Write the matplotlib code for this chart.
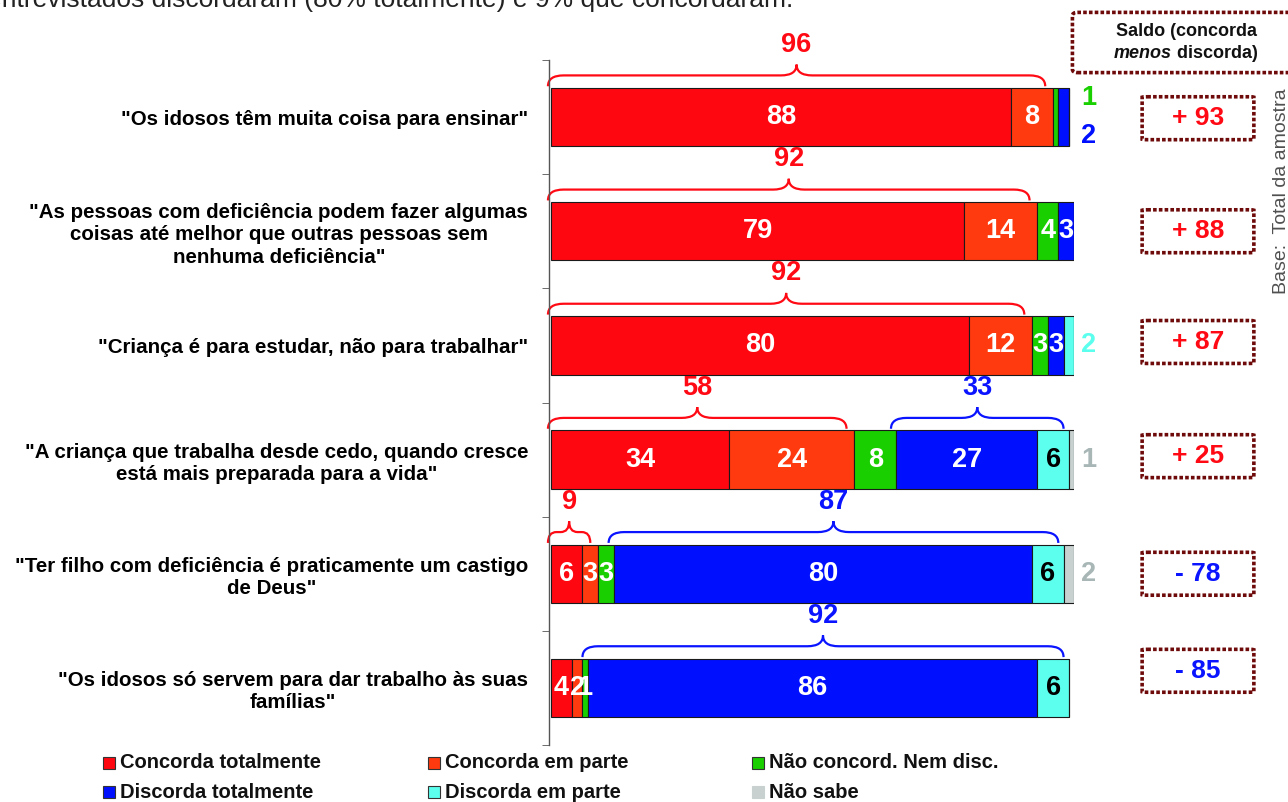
import matplotlib
matplotlib.use("Agg")
import matplotlib.pyplot as plt
from matplotlib.patches import Rectangle, FancyBboxPatch, PathPatch
from matplotlib.path import Path
import matplotlib.transforms as mtransforms

plt.rcParams['font.family'] = ['Liberation Sans', 'DejaVu Sans']

# ---------------- data ----------------
categories = [
    '"Os idosos têm muita coisa para ensinar"',
    '"As pessoas com deficiência podem fazer algumas\ncoisas até melhor que outras pessoas sem\nnenhuma deficiência"',
    '"Criança é para estudar, não para trabalhar"',
    '"A criança que trabalha desde cedo, quando cresce\nestá mais preparada para a vida"',
    '"Ter filho com deficiência é praticamente um castigo\nde Deus"',
    '"Os idosos só servem para dar trabalho às suas\nfamílias"',
]
series_names = ["Concorda totalmente", "Concorda em parte", "Não concord. Nem disc.",
                "Discorda totalmente", "Discorda em parte", "Não sabe"]
concorda_tot = [88, 79, 80, 34, 6, 4]
concorda_parte = [8, 14, 12, 24, 3, 2]
nem_nem = [1, 4, 3, 8, 3, 1]
discorda_tot = [2, 3, 3, 27, 80, 86]
discorda_parte = [0, 0, 2, 6, 6, 6]
nao_sabe = [0, 0, 0, 1, 2, 0]
total_concorda = [96, 92, 92, 58, 9, None]
total_discorda = [None, None, None, 33, 87, 92]
saldo = [93, 88, 87, 25, -78, -85]
top_note = "87% dos entrevistados discordaram (80% totalmente) e 9% que concordaram."

# ---------------- style ----------------
colors = ['#FF0710', '#FF3A0E', '#19CF00', '#0010FF', '#5CFFEE', '#C8D0D0']
label_colors = ['white', 'white', 'white', 'white', 'black', 'white']
outside_colors = ['#FF0710', '#FF3A0E', '#19CF00', '#0010FF', '#5CFFEE', '#A8B6B6']
# segments labelled outside the bar: (row, series) -> vertical offset
outside = {(0, 2): -0.17, (0, 3): 0.17, (2, 4): 0.0, (3, 5): 0.0, (4, 5): 0.0}
saldo_box_offset = [0.01, 0.0, -0.03, -0.03, 0.0, -0.15]
RED = '#FF0A14'
BLUE = '#0A14FF'
BOX = '#6E0A0A'
NUM_FS = 19.5

W, H = 1288, 802
fig = plt.figure(figsize=(W / 100, H / 100), dpi=100)
ax = fig.add_axes([549 / W, 1 - 745 / H, 525 / W, 685 / H])

data = [concorda_tot, concorda_parte, nem_nem, discorda_tot, discorda_parte, nao_sabe]
n = len(categories)
ypos = list(range(n))
left = [0.0] * n
starts = []
for s, vals in enumerate(data):
    ax.barh(ypos, vals, left=left, height=0.51, color=colors[s],
            edgecolor='#1a1a1a', linewidth=0.8, label=series_names[s])
    starts.append(list(left))
    for i, v in enumerate(vals):
        if v <= 0:
            continue
        if (i, s) in outside:
            ax.text(102.8, i + outside[(i, s)], str(v), ha='center', va='center',
                    fontsize=NUM_FS, fontweight='bold', color=outside_colors[s], clip_on=False)
        else:
            ax.text(left[i] + v / 2, i, str(v), ha='center', va='center',
                    fontsize=NUM_FS, fontweight='bold', color=label_colors[s], clip_on=False)
    left = [l + v for l, v in zip(left, vals)]


def brace(x0, x1, yc, color):
    yb = yc - 0.27
    yh = yc - 0.365
    yp = yc - 0.46
    xm = (x0 + x1) / 2
    k = min(3.0, (x1 - x0) * 0.2)
    verts = [(x0, yb), (x0, yh), (x0 + k, yh), (xm - k, yh), (xm, yh), (xm, yp),
             (xm, yh), (xm + k, yh), (x1 - k, yh), (x1, yh), (x1, yb)]
    codes = [Path.MOVETO, Path.CURVE3, Path.CURVE3, Path.LINETO, Path.CURVE3, Path.CURVE3,
             Path.CURVE3, Path.CURVE3, Path.LINETO, Path.CURVE3, Path.CURVE3]
    ax.add_patch(PathPatch(Path(verts, codes), fill=False, edgecolor=color,
                           linewidth=1.6, clip_on=False))
    return xm


for i in range(n):
    if total_concorda[i] is not None:
        end = concorda_tot[i] + concorda_parte[i]
        xm = brace(-0.6, end - 1.5, i, RED)
        ax.text(xm, i - 0.63, str(total_concorda[i]), ha='center', va='center',
                fontsize=NUM_FS, fontweight='bold', color=RED, clip_on=False)
    if total_discorda[i] is not None:
        s0 = starts[3][i]
        end = s0 + discorda_tot[i] + discorda_parte[i]
        xm = brace(s0 - 1.0, end - 1.0, i, BLUE)
        ax.text(xm, i - 0.63, str(total_discorda[i]), ha='center', va='center',
                fontsize=NUM_FS, fontweight='bold', color=BLUE, clip_on=False)

ax.set_xlim(-0.4, 100)
ax.set_ylim(n - 0.5, -0.5)
ax.set_yticks(ypos)
ax.set_yticklabels(categories, fontsize=14.8, fontweight='bold', linespacing=1.22)
for t in ax.get_yticklabels():
    t.set_multialignment('center')
ax.tick_params(axis='y', which='major', length=0, pad=15)
ax.set_yticks([i - 0.5 for i in range(n + 1)], minor=True)
ax.tick_params(axis='y', which='minor', length=5, direction='out', color='#555555')
ax.set_xticks([])
for sp in ['top', 'right', 'bottom']:
    ax.spines[sp].set_visible(False)
ax.spines['left'].set_color('#555555')
ax.spines['left'].set_linewidth(1.0)

# ---------------- saldo column ----------------
bt = mtransforms.blended_transform_factory(fig.transFigure, ax.transData)
box_h = 0.41
for i, v in enumerate(saldo):
    yc = i + saldo_box_offset[i]
    ax.add_patch(FancyBboxPatch((1146 / W, yc - box_h / 2 + 0.02), 104 / W, box_h - 0.04,
                                boxstyle="round,pad=0.003,rounding_size=0.004",
                                transform=bt, fill=False, edgecolor=BOX,
                                linewidth=2.6, linestyle=(0, (1.0, 0.6)), clip_on=False))
    txt = ("+ " if v > 0 else "- ") + str(abs(v))
    ax.text(1198 / W, yc, txt, transform=bt, ha='center', va='center', fontsize=19,
            fontweight='bold', color=RED if v > 0 else BLUE, clip_on=False)

fig.patches.append(FancyBboxPatch((1075 / W, 1 - 71 / H), 240 / W, 57 / H,
                                  boxstyle="round,pad=0.002,rounding_size=0.004",
                                  transform=fig.transFigure, fill=False, edgecolor=BOX,
                                  linewidth=2.6, linestyle=(0, (1.0, 0.6))))
fig.text(1186 / W, 1 - 31 / H, "Saldo (concorda", ha='center', va='center',
         fontsize=13, fontweight='bold', color='#111111')
fig.text(1172 / W, 1 - 53 / H, "menos", ha='right', va='center', fontsize=13,
         fontweight='bold', fontstyle='italic', color='#111111')
fig.text(1172 / W, 1 - 53 / H, " discorda)", ha='left', va='center', fontsize=13,
         fontweight='bold', color='#111111')

fig.text(1281 / W, 1 - 191 / H, "Base:  Total da amostra", rotation=90, ha='center',
         va='center', fontsize=14, color='#505050')

fig.text(793 / W, 1 - 7 / H, top_note, ha='right', va='baseline', fontsize=19,
         color='#222222')

# ---------------- legend ----------------
leg_order = [0, 3, 1, 4, 2, 5]
col_x = [103, 428, 752]
row_y = [763, 792]
for k, s in enumerate(leg_order):
    c, r = divmod(k, 2)
    x, y = col_x[c], row_y[r]
    fig.patches.append(Rectangle((x / W, 1 - (y + 6) / H), 12 / W, 12 / H,
                                 transform=fig.transFigure, facecolor=colors[s],
                                 edgecolor='#333333' if s != 5 else colors[s], linewidth=0.8))
    fig.text((x + 17) / W, 1 - y / H, series_names[s], ha='left', va='center',
             fontsize=14.5, fontweight='bold', color='#111111')

fig.savefig("out.png", dpi=100)
